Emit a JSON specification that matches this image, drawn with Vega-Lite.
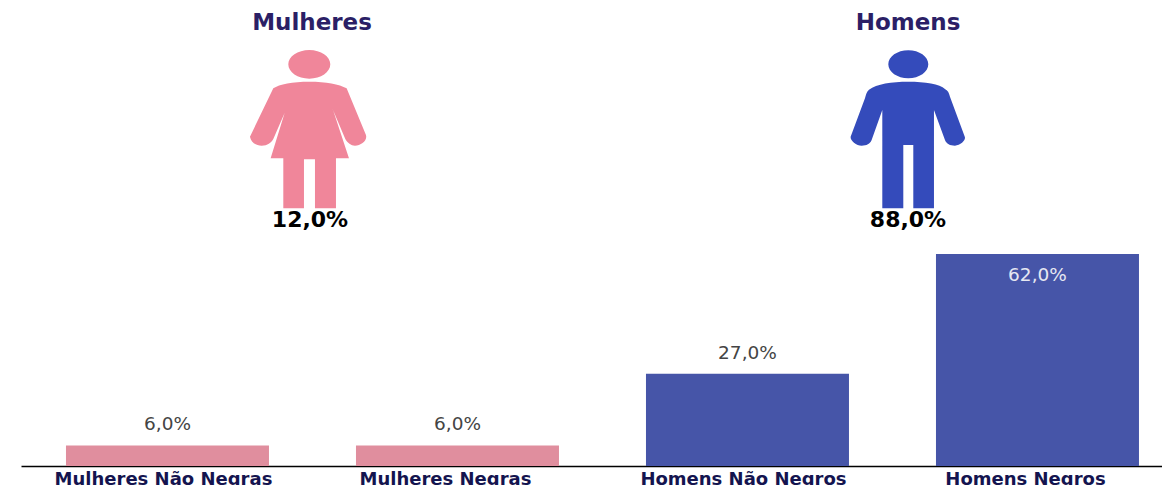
{
"$schema":"https://vega.github.io/schema/vega-lite/v6.json",
"width":1141,"height":466,
"autosize":{"type":"none"},
"padding":{"left":21,"top":0,"right":0,"bottom":19},
"background":"#ffffff",
"config":{"view":{"stroke":null},"text":{"font":"DejaVu Sans"}},
"datasets":{
"barras":[
{"categoria":"Mulheres Não Negras","grupo":"Mulheres","valor":6,"rotulo":"6,0%"},
{"categoria":"Mulheres Negras","grupo":"Mulheres","valor":6,"rotulo":"6,0%"},
{"categoria":"Homens Não Negros","grupo":"Homens","valor":27,"rotulo":"27,0%"},
{"categoria":"Homens Negros","grupo":"Homens","valor":62,"rotulo":"62,0%"}],
"totais":[
{"grupo":"Mulheres","total":"12,0%"},
{"grupo":"Homens","total":"88,0%"}]
},
"resolve":{"scale":{"x":"independent","y":"independent","color":"independent","shape":"independent"},"axis":{"x":"independent","y":"independent"}},
"layer":[
{"data":{"name":"barras"},
 "mark":{"type":"bar"},
 "encoding":{
  "x":{"field":"categoria","type":"nominal","sort":null,"title":null,
   "scale":{"type":"band","domain":["Mulheres Não Negras","Mulheres Negras","Homens Não Negros","Homens Negros"],"range":[0,1160],"paddingInner":0.3,"paddingOuter":0.15,"align":0.517},
   "axis":{"ticks":false,"domainColor":"#000000","domainWidth":1.5,"labelAngle":0,"labelColor":"#14144f","labelFont":"DejaVu Sans","labelFontWeight":"bold","labelFontSize":18,"labelPadding":4,"labelOverlap":false,"labelLimit":400,"labelBound":false,"labelFlush":false,"grid":false,
    "labelOffset":{"condition":[{"test":"datum.value === 'Mulheres Negras' || datum.value === 'Homens Negros'","value":-12}],"value":-4}}},
  "y":{"field":"valor","type":"quantitative","axis":null,"scale":{"domain":[0,136.3],"nice":false,"zero":true}},
  "color":{"field":"grupo","type":"nominal","legend":null,"scale":{"domain":["Mulheres","Homens"],"range":["#E08E9E","#4655A8"]}}
 }},
{"data":{"name":"barras"},
 "transform":[{"filter":"datum.valor < 50"}],
 "mark":{"type":"text","font":"DejaVu Sans","fontSize":18.5,"dy":-21,"baseline":"middle","align":"center","color":"#444444"},
 "encoding":{
  "x":{"field":"categoria","type":"nominal","sort":null,"axis":null,
   "scale":{"type":"band","domain":["Mulheres Não Negras","Mulheres Negras","Homens Não Negros","Homens Negros"],"range":[0,1160],"paddingInner":0.3,"paddingOuter":0.15,"align":0.517}},
  "y":{"field":"valor","type":"quantitative","axis":null,"scale":{"domain":[0,136.3],"nice":false,"zero":true}},
  "text":{"field":"rotulo"}
 }},
{"data":{"name":"barras"},
 "transform":[{"filter":"datum.valor >= 50"}],
 "mark":{"type":"text","font":"DejaVu Sans","fontSize":18.5,"dy":21,"baseline":"middle","align":"center","color":"#E6E8F2"},
 "encoding":{
  "x":{"field":"categoria","type":"nominal","sort":null,"axis":null,
   "scale":{"type":"band","domain":["Mulheres Não Negras","Mulheres Negras","Homens Não Negros","Homens Negros"],"range":[0,1160],"paddingInner":0.3,"paddingOuter":0.15,"align":0.517}},
  "y":{"field":"valor","type":"quantitative","axis":null,"scale":{"domain":[0,136.3],"nice":false,"zero":true}},
  "text":{"field":"rotulo"}
 }},
{"data":{"name":"totais"},
 "mark":{"type":"point","filled":true,"opacity":1,"size":0.4444,"strokeWidth":0},
 "encoding":{
  "x":{"field":"grupo","type":"nominal","axis":null,"scale":{"type":"point","domain":["Mulheres","Homens"],"range":[288.3,887.3],"padding":0}},
  "y":{"datum":"figura","type":"nominal","axis":null,"scale":{"type":"point","domain":["figura"],"range":[129,129],"padding":0}},
  "color":{"field":"grupo","type":"nominal","legend":null,"scale":{"domain":["Mulheres","Homens"],"range":["#F0869A","#344BBB"]}},
  "shape":{"field":"grupo","type":"nominal","legend":null,"scale":{"domain":["Mulheres","Homens"],"range":[
   "M-63,-194 A63,43 0 1 1 63,-194 A63,43 0 1 1 -63,-194 Z M0,-142 C50,-142 90,-135 112,-122 L170,18 C175,35 155,50 137,50 C125,50 115,42 108,30 L67,-67 L72,-55 L119,88 L80,88 L80,238 L17,238 L17,91 L-16,91 L-16,238 L-78,238 L-78,88 L-116,88 L-72,-55 L-66,-67 L-108,30 C-115,42 -125,50 -143,50 C-160,50 -175,40 -178,23 L-108,-122 C-90,-135 -50,-142 0,-142 Z",
   "M-60,-194 A60,42 0 1 1 60,-194 A60,42 0 1 1 -60,-194 Z M0,-142 C-50,-142 -95,-135 -118,-118 C-125,-112 -128,-100 -130,-92 L-173,23 C-175,35 -155,50 -140,50 C-125,50 -115,45 -110,33 L-78,-57 L-78,238 L-15,238 L-15,48 L15,48 L15,238 L77,238 L77,-57 L110,33 C115,45 125,50 140,50 C155,50 172,35 170,25 L125,-97 C122,-110 118,-115 110,-120 C95,-135 50,-142 0,-142 Z"
  ]}}
 }},
{"data":{"name":"totais"},
 "mark":{"type":"text","font":"DejaVu Sans","fontWeight":"bold","fontSize":23,"baseline":"middle","align":"center","color":"#2B1F66"},
 "encoding":{
  "x":{"field":"grupo","type":"nominal","axis":null,"scale":{"type":"point","domain":["Mulheres","Homens"],"range":[291,887],"padding":0}},
  "y":{"datum":"titulo","type":"nominal","axis":null,"scale":{"type":"point","domain":["titulo"],"range":[23,23],"padding":0}},
  "text":{"field":"grupo"}
 }},
{"data":{"name":"totais"},
 "mark":{"type":"text","font":"DejaVu Sans","fontWeight":"bold","fontSize":22,"baseline":"middle","align":"center","color":"#000000"},
 "encoding":{
  "x":{"field":"grupo","type":"nominal","axis":null,"scale":{"type":"point","domain":["Mulheres","Homens"],"range":[289,887],"padding":0}},
  "y":{"datum":"total","type":"nominal","axis":null,"scale":{"type":"point","domain":["total"],"range":[220,220],"padding":0}},
  "text":{"field":"total"}
 }}
]
}
